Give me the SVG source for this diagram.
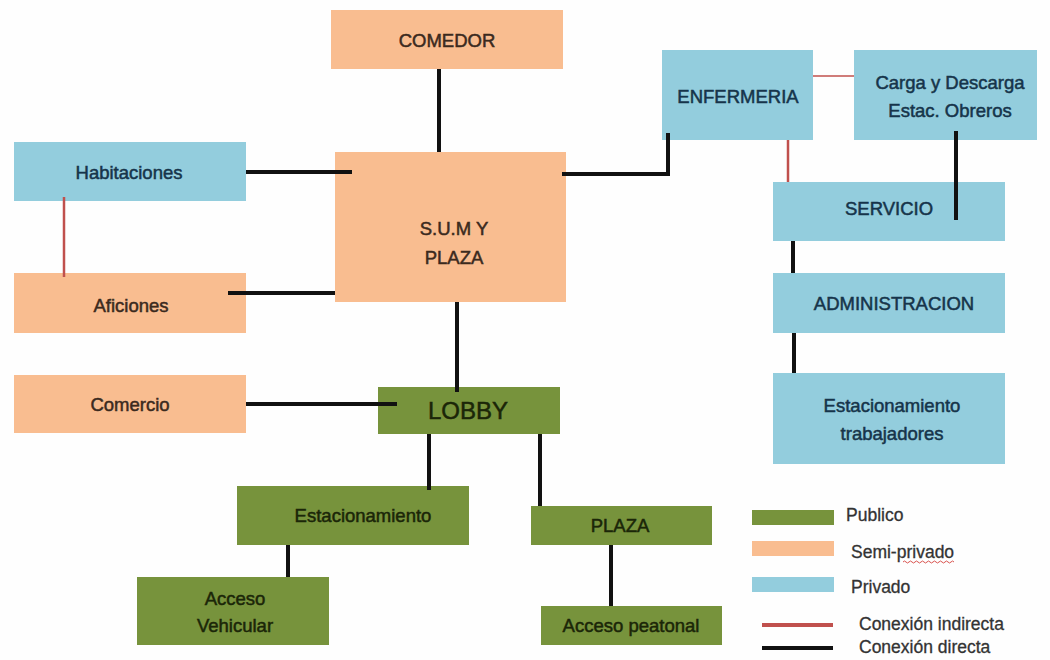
<svg xmlns="http://www.w3.org/2000/svg" width="1050" height="660" viewBox="0 0 1050 660">
<style>
.t{font-family:"Liberation Sans",Arial,sans-serif;font-size:18.5px;text-anchor:middle;stroke-width:0.5}
.o{fill:#F9BD90}
.b{fill:#93CDDD}
.g{fill:#77933C}
.to{fill:#3b2a1e;stroke:#3b2a1e}
.tb{fill:#16344a;stroke:#16344a}
.tg{fill:#1b2608;stroke:#1b2608}
.blk{stroke:#111;stroke-width:4;fill:none}
.red{stroke:#C0504D;stroke-width:2.5;fill:none}
.lg{font-family:"Liberation Sans",Arial,sans-serif;font-size:17.5px;fill:#333;stroke:#333;stroke-width:0.3}
</style>
<rect width="1050" height="660" fill="#fefefe"/>
<g id="comedor"><rect class="o" x="331" y="10" width="232" height="59"/><text class="t to" x="447" y="47">COMEDOR</text></g>
<g id="sum"><rect class="o" x="335" y="152" width="231" height="150"/><text class="t to" x="454" y="235">S.U.M Y</text><text class="t to" x="454" y="264">PLAZA</text></g>
<g id="habitaciones"><rect class="b" x="14" y="142" width="232" height="59"/><text class="t tb" x="129" y="179">Habitaciones</text></g>
<g id="aficiones"><rect class="o" x="14" y="273" width="232" height="60"/><text class="t to" x="131" y="312">Aficiones</text></g>
<g id="comercio"><rect class="o" x="14" y="375" width="232" height="58"/><text class="t to" x="130" y="411">Comercio</text></g>
<g id="lobby"><rect class="g" x="378" y="387" width="182" height="47"/><text class="t tg" x="468" y="419" style="font-size:24px">LOBBY</text></g>
<g id="estacionamiento"><rect class="g" x="237" y="486" width="232" height="59"/><text class="t tg" x="363" y="522">Estacionamiento</text></g>
<g id="acceso-vehicular"><rect class="g" x="137" y="577" width="192" height="68"/><text class="t tg" x="235" y="605">Acceso</text><text class="t tg" x="235" y="632">Vehicular</text></g>
<g id="plaza"><rect class="g" x="531" y="506" width="181" height="39"/><text class="t tg" x="620" y="532">PLAZA</text></g>
<g id="acceso-peatonal"><rect class="g" x="541" y="606" width="181" height="39"/><text class="t tg" x="631" y="632">Acceso peatonal</text></g>
<g id="enfermeria"><rect class="b" x="662" y="50" width="151" height="90"/><text class="t tb" x="738" y="103">ENFERMERIA</text></g>
<g id="carga"><rect class="b" x="854" y="50" width="183" height="90"/><text class="t tb" x="950" y="89">Carga y Descarga</text><text class="t tb" x="950" y="117">Estac. Obreros</text></g>
<g id="servicio"><rect class="b" x="773" y="182" width="232" height="59"/><text class="t tb" x="889" y="215">SERVICIO</text></g>
<g id="administracion"><rect class="b" x="773" y="273" width="232" height="60"/><text class="t tb" x="894" y="310">ADMINISTRACION</text></g>
<g id="estacionamiento-trabajadores"><rect class="b" x="773" y="373" width="232" height="91"/><text class="t tb" x="892" y="412">Estacionamiento</text><text class="t tb" x="892" y="440">trabajadores</text></g>
<g id="connectors">
<line class="blk" x1="439" y1="69" x2="439" y2="152"/>
<line class="blk" x1="246" y1="172" x2="352" y2="172"/>
<line class="blk" x1="228" y1="293" x2="335" y2="293"/>
<line class="red" x1="64" y1="197" x2="64" y2="277"/>
<polyline class="blk" points="562,174 668,174 668,133"/>
<line class="blk" x1="457" y1="302" x2="457" y2="392"/>
<line class="blk" x1="246" y1="404" x2="397" y2="404"/>
<line class="blk" x1="429" y1="434" x2="429" y2="490"/>
<line class="blk" x1="540" y1="434" x2="540" y2="506"/>
<line class="blk" x1="288" y1="545" x2="288" y2="577"/>
<line class="blk" x1="611" y1="545" x2="611" y2="606"/>
<line class="red" x1="813" y1="76" x2="854" y2="76" style="stroke-width:1.5"/>
<line class="red" x1="788" y1="140" x2="788" y2="182"/>
<line class="blk" x1="956" y1="131" x2="956" y2="220"/>
<line class="blk" x1="793" y1="241" x2="793" y2="273"/>
<line class="blk" x1="794" y1="333" x2="794" y2="373"/>
</g>
<g id="legend">
<rect class="g" x="752" y="510" width="82" height="15"/>
<text class="lg" x="846" y="521">Publico</text>
<rect class="o" x="752" y="541" width="82" height="15"/>
<text class="lg" x="851" y="558">Semi-privado</text>
<path d="M903 562 q1.5 -2 3 0 t3 0 t3 0 t3 0 t3 0 t3 0 t3 0 t3 0 t3 0 t3 0 t3 0 t3 0 t3 0 t3 0 t3 0 t3 0 t3 0" stroke="#d9534f" stroke-width="1" fill="none"/>
<rect class="b" x="752" y="577" width="82" height="15"/>
<text class="lg" x="851" y="593">Privado</text>
<line x1="762" y1="625" x2="833" y2="625" stroke="#C0504D" stroke-width="4"/>
<text class="lg" x="859" y="630">Conexión indirecta</text>
<line x1="762" y1="648" x2="833" y2="648" stroke="#111" stroke-width="4"/>
<text class="lg" x="859" y="653">Conexión directa</text>
</g>
</svg>
